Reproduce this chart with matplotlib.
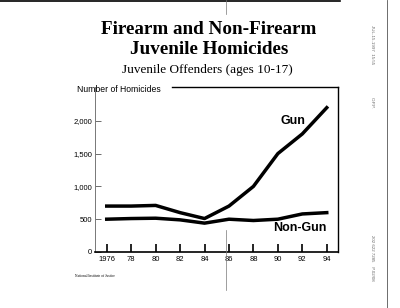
import matplotlib
matplotlib.use("Agg")
import matplotlib.pyplot as plt

years = [1976, 1978, 1980, 1982, 1984, 1986, 1988, 1990, 1992, 1994]
gun = [700, 700, 710, 600, 510, 700, 1000, 1500, 1800, 2200]
non_gun = [500, 510, 515, 490, 440, 500, 480, 500, 580, 600]
xtick_labels = ["1976", "78", "80", "82", "84", "86", "88", "90", "92", "94"]
yticks = [0, 500, 1000, 1500, 2000]
ytick_labels = ["0", "500", "1,000", "1,500", "2,000"]

fig = plt.figure(figsize=(4.0, 3.08), dpi=100)
W, H = 400, 308
def fx(x): return x / W
def fy(y): return 1 - y / H

ax = fig.add_axes([fx(95), fy(252), fx(338) - fx(95), fy(87) - fy(252)])
ax.plot(years, gun, color="black", lw=2.5, solid_joinstyle="round")
ax.plot(years, non_gun, color="black", lw=2.5, solid_joinstyle="round")
ax.set_xlim(1975.04, 1994.92)
ax.set_ylim(0, 2515)
ax.set_xticks(years)
ax.set_xticklabels(xtick_labels, fontsize=5.5, family="Liberation Sans")
ax.set_yticks(yticks)
ax.set_yticklabels(ytick_labels, fontsize=5.5, family="Liberation Sans")
ax.tick_params(axis="x", direction="in", length=6, width=1.2, pad=3)
ax.tick_params(axis="y", direction="in", length=4, width=0.6, pad=2, color="#555555")
ax.spines["left"].set_color("#777777")
ax.spines["left"].set_linewidth(0.7)
ax.spines["top"].set_visible(False)
ax.spines["right"].set_linewidth(1.0)
ax.spines["bottom"].set_linewidth(1.2)
ax.plot([(172 - 95) / (338 - 95), 1], [1, 1], transform=ax.transAxes,
        color="black", lw=1.0, clip_on=False)

ax.text(1990.2, 2000, "Gun", fontsize=9, fontweight="bold", family="Liberation Sans", va="center")
ax.text(1989.6, 450, "Non-Gun", fontsize=9, fontweight="bold", family="Liberation Sans", va="top")

fig.text(fx(209), fy(30), "Firearm and Non-Firearm", ha="center", va="center",
         fontsize=13.8, fontweight="bold", family="Liberation Serif")
fig.text(fx(209), fy(50), "Juvenile Homicides", ha="center", va="center",
         fontsize=13.8, fontweight="bold", family="Liberation Serif")
fig.text(fx(207), fy(70), "Juvenile Offenders (ages 10-17)", ha="center", va="center",
         fontsize=9.5, family="Liberation Serif")
fig.text(fx(77), fy(89), "Number of Homicides", ha="left", va="center",
         fontsize=6.2, family="Liberation Sans")
fig.text(fx(75), fy(276), "National Institute of Justice", ha="left", va="center",
         fontsize=2.6, family="Liberation Serif")

# fax artifacts
fig.add_artist(plt.Line2D([0, fx(340)], [fy(1), fy(1)], color="black", lw=1.2))
fig.add_artist(plt.Line2D([fx(387), fx(387)], [0, 1], color="#555555", lw=0.6))
fig.add_artist(plt.Line2D([fx(226), fx(226)], [fy(0), fy(14)], color="#777777", lw=0.5))
fig.add_artist(plt.Line2D([fx(226), fx(226)], [fy(230), fy(290)], color="#777777", lw=0.5))
fig.text(fx(372), fy(45), "JUL-15-1997  15:55", rotation=-90, ha="center", va="center",
         fontsize=3.2, color="#666666", family="Liberation Sans")
fig.text(fx(372), fy(103), "O.P.P.", rotation=-90, ha="center", va="center",
         fontsize=3.2, color="#666666", family="Liberation Sans")
fig.text(fx(372), fy(258), "202 622 7285    P.02/08", rotation=-90, ha="center", va="center",
         fontsize=3.2, color="#666666", family="Liberation Sans")

fig.savefig("out.png", dpi=100)
